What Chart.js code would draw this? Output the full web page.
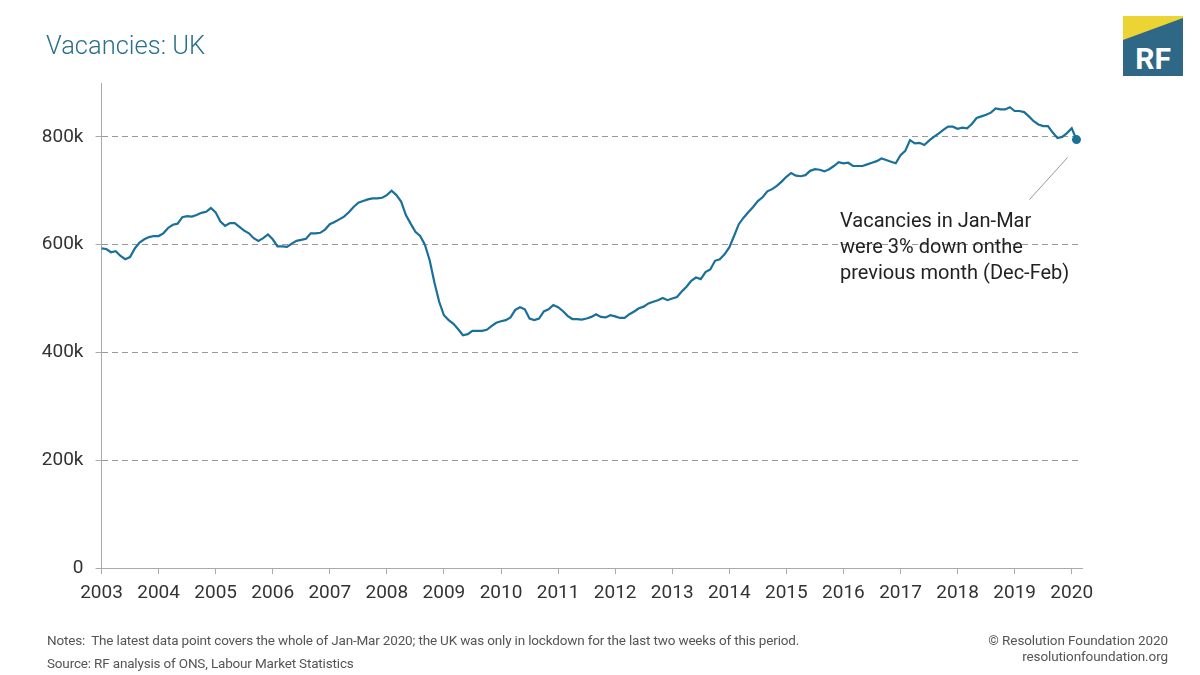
<!DOCTYPE html>
<html>
<head>
<meta charset="utf-8">
<script src="https://cdn.jsdelivr.net/npm/chart.js@4"></script>
<style>
  html, body { margin:0; padding:0; background:#fff; }
  #wrap { position:relative; width:1200px; height:675px; overflow:hidden; font-family: Roboto, "Noto Sans", sans-serif; }
  #c { position:absolute; left:0; top:0; }
  .title { position:absolute; left:46px; top:30px; font-size:25.5px; font-weight:300; color:#2b6f8c; letter-spacing:0px; }
  .note { position:absolute; left:47px; font-size:13.5px; color:#555; letter-spacing:-0.17px; }
  .right { position:absolute; right:32px; font-size:13.5px; color:#555; text-align:right; letter-spacing:-0.1px; line-height:16px; }
  .annot { position:absolute; left:840px; top:207px; font-size:20px; color:#222; line-height:26px; }
  .logo { position:absolute; left:1123px; top:16px; width:60px; height:60px; }
</style>
</head>
<body>
<div id="wrap">
  <canvas id="c" width="1200" height="675"></canvas>
  <div class="title">Vacancies: UK</div>
  <div class="annot">Vacancies in Jan-Mar<br>were 3% down onthe<br>previous month (Dec-Feb)</div>
  <div class="note" style="top:632px;">Notes:&nbsp; The latest data point covers the whole of Jan-Mar 2020; the UK was only in lockdown for the last two weeks of this period.</div>
  <div class="note" style="top:655px;">Source: RF analysis of ONS, Labour Market Statistics</div>
  <div class="right" style="top:632px;">© Resolution Foundation 2020<br>resolutionfoundation.org</div>
  <svg class="logo" viewBox="0 0 60 60">
    <rect x="0" y="0" width="60" height="60" fill="#2f6786"/>
    <polygon points="0,0 60,0 60,2 0,24" fill="#ecd434"/>
    <text x="30" y="53" text-anchor="middle" font-family="Roboto, sans-serif" font-weight="700" font-size="30" fill="#fff">RF</text>
  </svg>
</div>
<script>
// Monthly 3-month rolling vacancies (thousands), Jan 2003 .. Feb 2020 (Jan-Mar 2020 centred)
const startYear = 2003;
const vacancies = [
  593,592,586,588,579,573,577,593,604,610,614,616,           // 2003
  616,621,631,637,639,651,653,652,655,659,661,668,           // 2004
  660,643,635,640,640,633,626,621,612,607,612,619,           // 2005
  610,597,597,596,602,607,609,611,621,621,622,628,           // 2006
  638,642,647,652,660,670,678,681,684,686,686,687,           // 2007
  692,700,692,680,655,639,624,616,600,571,530,494,           // 2008
  469,460,453,443,432,434,440,440,440,442,449,455,           // 2009
  458,460,465,479,484,480,463,460,463,476,480,488,           // 2010
  484,477,468,462,462,461,463,466,471,466,465,469,           // 2011
  467,464,464,471,476,482,485,491,494,497,501,497,           // 2012
  500,503,513,522,533,539,536,549,554,570,573,582,           // 2013
  595,616,638,650,660,670,681,688,699,703,709,717,           // 2014
  726,733,728,727,729,737,740,739,736,740,746,753,           // 2015
  751,752,746,746,746,749,752,755,760,757,754,751,           // 2016
  766,774,794,788,789,785,793,800,806,813,819,819,           // 2017
  815,817,816,824,835,838,841,845,853,851,851,855,           // 2018
  848,848,846,838,829,823,820,820,808,798,800,807,           // 2019
  816,795                                                    // 2020
];
const yearTicks = [2003,2004,2005,2006,2007,2008,2009,2010,2011,2012,2013,2014,2015,2016,2017,2018,2019,2020];
const yTicks = [0,200,400,600,800];
const yTickLabels = ['0','200k','400k','600k','800k'];

const points = vacancies.map((v,i)=>({x: startYear + i/12, y: v}));
const lastIdx = points.length - 1;

const leader = {
  id:'leader',
  afterDatasetsDraw(chart){
    const {ctx, scales:{x,y}} = chart;
    const p = points[lastIdx];
    const px = x.getPixelForValue(p.x), py = y.getPixelForValue(p.y);
    ctx.save();
    ctx.strokeStyle = '#999';
    ctx.lineWidth = 1;
    ctx.beginPath();
    ctx.moveTo(px-9, py+18);
    ctx.lineTo(px-47, py+60);
    ctx.stroke();
    ctx.restore();
  }
};

new Chart(document.getElementById('c'), {
  type:'line',
  data:{ datasets:[{
    data: points,
    borderColor:'#1a7098',
    borderWidth:2.2,
    tension:0,
    pointRadius: points.map((p,i)=> i===lastIdx ? 4.5 : 0),
    pointBackgroundColor:'#1a7098',
    pointBorderWidth:0,
    clip:false
  }]},
  options:{
    responsive:false,
    animation:false,
    events:[],
    layout:{ padding:{ left:0, top:83, right:118, bottom:67 } },
    plugins:{ legend:{display:false}, tooltip:{enabled:false} },
    scales:{
      x:{
        type:'linear',
        min:2003, max:2020.18,
        afterBuildTicks(s){ s.ticks = yearTicks.map(v=>({value:v})); },
        afterFit(s){ s.height = 40; },
        ticks:{ color:'#333', font:{family:'Roboto', size:19}, padding:8, maxRotation:0, autoSkip:false,
                callback:(v)=> String(v) },
        grid:{ drawOnChartArea:false, drawTicks:true, tickLength:6, color:'#aaa', lineWidth:1 },
        border:{ display:true, color:'#aaa', width:1 }
      },
      y:{
        min:0, max:900,
        afterBuildTicks(s){ s.ticks = yTicks.map(v=>({value:v})); },
        afterFit(s){ s.width = 101.5; },
        ticks:{ color:'#333', font:{family:'Roboto', size:19}, padding:12,
                callback:(v)=> yTickLabels[yTicks.indexOf(v)] },
        grid:{ color:'#999', lineWidth:1, tickLength:6, tickColor:'#aaa', tickBorderDash:[], drawTicks:true },
        border:{ display:true, color:'#aaa', width:1, dash:[6,4] }
      }
    }
  },
  plugins:[leader]
});
</script>
</body>
</html>
